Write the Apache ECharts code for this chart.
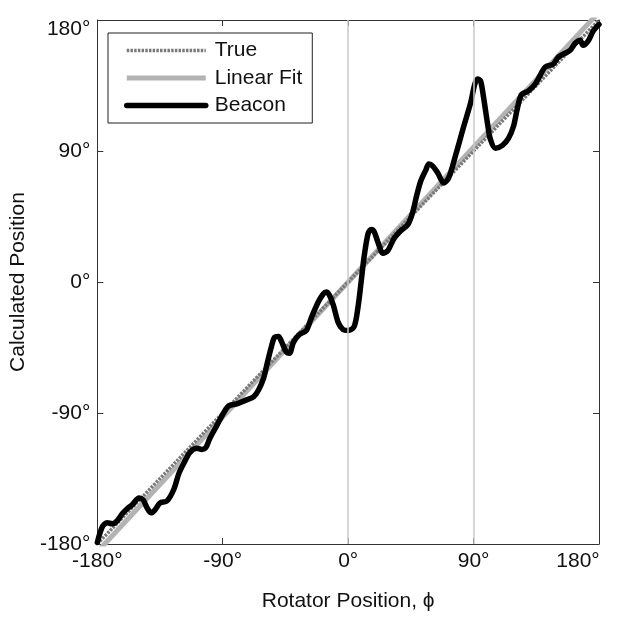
<!DOCTYPE html>
<html>
<head>
<meta charset="utf-8">
<script src="https://cdn.jsdelivr.net/npm/echarts@6/dist/echarts.min.js"></script>
<style>
html,body{margin:0;padding:0;background:#fff;}
#chart{width:623px;height:617px;}
</style>
</head>
<body>
<div id="chart"></div>
<script>
// Tick values
var xTicks = [-180, -90, 0, 90, 180];
var yTicks = [-180, -90, 0, 90, 180];
var refLines = [0, 90];

// True line (y = x)
var trueX = [-180, 180];
var trueY = [-180, 180];

// Linear fit endpoints
var fitX = [-180, 180];
var fitY = [-185.4, 185.4];

// Beacon estimate
var beaconX = [-180,-176.4,-172.9,-169.3,-165.7,-162.1,-158.6,-155.0,-150.0,-147.1,-144.3,-141.4,-138.6,-135.0,-130.0,-125.0,-121.4,-117.9,-113.6,-108.6,-105.0,-102.1,-99.3,-94.3,-89.3,-85.7,-80.0,-72.9,-67.9,-64.3,-60.7,-57.9,-55.0,-52.9,-50.0,-47.9,-44.3,-42.1,-39.3,-35.0,-30.0,-26.4,-21.4,-17.9,-15.7,-13.6,-10.7,-7.1,-3.6,0,4.3,7.1,9.3,11.4,14.3,16.4,18.6,21.4,25.0,28.6,32.9,37.9,42.9,46.4,49.3,52.1,55.7,57.9,60.7,64.3,68.6,72.1,77.1,82.9,87.9,90.7,92.9,95.0,97.1,100.0,102.1,105.7,110.7,115.0,118.6,121.4,124.3,129.3,134.3,137.9,141.4,147.1,150.7,154.3,159.3,162.9,166.4,168.6,172.1,175.7,178.6,180];
var beaconY = [-179,-168.1,-165.4,-166.1,-164.0,-159.2,-155.8,-153.1,-148.4,-149.7,-155.2,-158.6,-156.5,-151.8,-150.4,-142.2,-131.3,-124.5,-117.1,-114.3,-115.0,-113.7,-107.5,-98.7,-89.8,-85.1,-83.7,-81.0,-78.9,-74.2,-66.0,-55.1,-44.2,-38.1,-37.4,-40.8,-48.3,-49.0,-41.5,-36.1,-33.3,-24.5,-13.6,-8.2,-6.8,-8.8,-15.7,-27.9,-32.7,-33.3,-30.6,-17.0,0,17.0,33.3,36.1,34.7,27.2,19.7,21.8,29.9,35.4,39.5,48.3,59.9,69.4,76.9,81.0,79.6,74.9,68.1,71.5,87.1,106.8,123.2,135.4,139.5,138.2,127.3,108.9,98.0,91.9,93.9,98.7,106.8,119.1,128.6,131.3,136.1,142.2,147.7,149.7,154.5,156.5,159.2,164.0,166.1,162.6,165.4,172.2,175.6,176.9];

function pairs(xs, ys) { return xs.map(function (x, i) { return [x, ys[i]]; }); }

var FONT = "'Liberation Sans', Arial, sans-serif";
var AXIS_COLOR = '#333';
var FS = 21;

var chart = echarts.init(document.getElementById('chart'), null, {renderer: 'canvas'});

var baseAxis = {
  type: 'value', min: -180, max: 180, interval: 90,
  axisLine: {show: true, onZero: false, lineStyle: {color: AXIS_COLOR, width: 1}},
  axisTick: {show: true, inside: true, length: 6, lineStyle: {color: AXIS_COLOR, width: 1}},
  splitLine: {show: false}
};

var COLORS = {fit: '#b3b3b3', tru: '#7a7a7a', beacon: '#000'};

var option = {
  animation: false,
  backgroundColor: '#fff',
  textStyle: {fontFamily: FONT},
  grid: {left: 96, right: 24, top: 20, bottom: 68, containLabel: false},
  legend: {
    left: 108, top: 33,
    orient: 'vertical',
    data: [
      {name: 'True', itemStyle: {opacity: 0}, lineStyle: {width: 3.5, color: COLORS.tru, type: [2.5, 1.2]}},
      {name: 'Linear Fit', itemStyle: {opacity: 0}, lineStyle: {width: 5, color: COLORS.fit}},
      {name: 'Beacon', itemStyle: {opacity: 0}, lineStyle: {width: 5.5, color: COLORS.beacon}}
    ],
    itemWidth: 79, itemHeight: 20, itemGap: 6.5,
    padding: [7, 10, 7, 16],
    borderColor: '#222', borderWidth: 1, borderRadius: 0,
    backgroundColor: '#fff',
    textStyle: {fontFamily: FONT, fontSize: FS, color: '#111', padding: [0, 0, 0, 4]}
  },
  xAxis: [
    Object.assign({}, baseAxis, {
      position: 'bottom',
      name: 'Rotator Position, ϕ', nameLocation: 'middle', nameGap: 47,
      nameTextStyle: {fontFamily: FONT, fontSize: FS, color: '#111'},
      axisLabel: {
        fontFamily: FONT, fontSize: FS, color: '#111', margin: 7,
        formatter: function (v) { return v === 180 ? '{r|' + v + '°}' : v + '°'; },
        rich: {r: {fontFamily: FONT, fontSize: FS, color: '#111', padding: [0, 42, 0, 0]}}
      }
    }),
    Object.assign({}, baseAxis, {position: 'top', axisLabel: {show: false}})
  ],
  yAxis: [
    Object.assign({}, baseAxis, {
      position: 'left',
      name: 'Calculated Position', nameLocation: 'middle', nameGap: 60,
      nameTextStyle: {fontFamily: FONT, fontSize: FS, color: '#111'},
      axisLabel: {
        fontFamily: FONT, fontSize: FS, color: '#111', margin: 7,
        formatter: function (v) { return v === 180 ? '{t|' + v + '°}' : v + '°'; },
        rich: {t: {fontFamily: FONT, fontSize: FS, color: '#111', padding: [18, 0, 0, 0]}}
      }
    }),
    Object.assign({}, baseAxis, {position: 'right', axisLabel: {show: false}})
  ],
  series: [
    {
      name: 'Linear Fit', type: 'line', z: 2,
      data: pairs(fitX, fitY), symbol: 'none', clip: true,
      lineStyle: {color: COLORS.fit, width: 5},
      itemStyle: {color: COLORS.fit},
      markLine: {
        silent: true, symbol: 'none', label: {show: false},
        lineStyle: {color: '#c8c8c8', width: 1.5, type: 'solid'},
        data: refLines.map(function (v) { return {xAxis: v}; })
      }
    },
    {
      name: 'True', type: 'line', z: 3,
      data: pairs(trueX, trueY), symbol: 'none', clip: true,
      lineStyle: {color: COLORS.tru, width: 3.5, type: [2.5, 1.2]},
      itemStyle: {color: COLORS.tru}
    },
    {
      name: 'Beacon', type: 'line', z: 4,
      data: pairs(beaconX, beaconY), symbol: 'none', smooth: 0.3, clip: true,
      lineStyle: {color: COLORS.beacon, width: 5.5, join: 'round', cap: 'round'},
      itemStyle: {color: COLORS.beacon}
    }
  ]
};

chart.setOption(option);
</script>
</body>
</html>
